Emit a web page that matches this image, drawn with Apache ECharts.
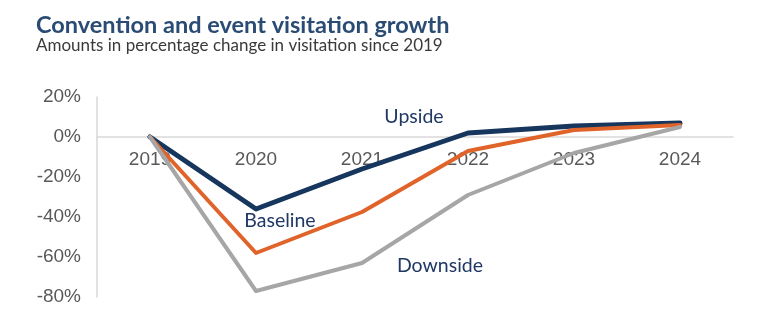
<!DOCTYPE html>
<html>
<head>
<meta charset="utf-8">
<script src="https://cdn.jsdelivr.net/npm/echarts@6/dist/echarts.min.js"></script>
<style>
html,body{margin:0;padding:0;background:#fff;}
#c{width:759px;height:332px;}
</style>
</head>
<body>
<div id="c"></div>
<script>
const categories = ['2019','2020','2021','2022','2023','2024'];
const upside   = [0, -36, -16, 2, 5.5, 7];
const baseline = [0, -58, -37.5, -7, 3.5, 6];
const downside = [0, -77, -63, -29, -8, 5];
const yTicks = { min: -80, max: 20, interval: 20 };

const chart = echarts.init(document.getElementById('c'));
const lbl = (name, coord, offset) => ({
  coord: coord, symbolSize: 0,
  label: { show: true, formatter: name, color: '#1f3864', fontFamily: 'Lato', fontSize: 19.5,
           position: 'inside', offset: offset }
});
chart.setOption({
  animation: false,
  title: {
    text: 'Convention and event visitation growth',
    subtext: 'Amounts in percentage change in visitation since 2019',
    left: 31, top: 8, itemGap: 0,
    textStyle: { fontFamily: 'Lato', fontSize: 23.5, fontWeight: 'bold', color: '#2a4b73' },
    subtextStyle: { fontFamily: 'Lato', fontSize: 17, color: '#3a3a3a' }
  },
  grid: { left: 97, right: 26, top: 97, bottom: 35, containLabel: false },
  xAxis: {
    type: 'category', data: categories, boundaryGap: true,
    offset: -160,
    axisLine: { onZero: false, lineStyle: { color: '#d9d9d9', width: 1.5 } },
    axisTick: { show: false },
    axisLabel: { color: '#595959', fontFamily: 'Liberation Sans', fontSize: 19, margin: 13 }
  },
  yAxis: {
    type: 'value', min: yTicks.min, max: yTicks.max, interval: yTicks.interval,
    axisLine: { show: true, lineStyle: { color: '#d9d9d9', width: 1.5 } },
    axisTick: { show: false },
    splitLine: { show: false },
    axisLabel: { color: '#595959', fontFamily: 'Liberation Sans', fontSize: 19, margin: 16,
                 formatter: v => v + '%' }
  },
  series: [
    { name: 'Upside', type: 'line', data: upside, symbol: 'none',
      lineStyle: { color: '#17365d', width: 5, cap: 'round', join: 'round' },
      markPoint: { symbol: 'circle', data: [lbl('Upside', ['2021', 10], [52, 0])] } },
    { name: 'Baseline', type: 'line', data: baseline, symbol: 'none',
      lineStyle: { color: '#e0632a', width: 4, cap: 'round', join: 'round' },
      markPoint: { symbol: 'circle', data: [lbl('Baseline', ['2020', -42], [24, 0])] } },
    { name: 'Downside', type: 'line', data: downside, symbol: 'none',
      lineStyle: { color: '#a6a6a6', width: 4, cap: 'round', join: 'round' },
      markPoint: { symbol: 'circle', data: [lbl('Downside', ['2022', -64.5], [-28, 0])] } }
  ]
});
</script>
</body>
</html>
